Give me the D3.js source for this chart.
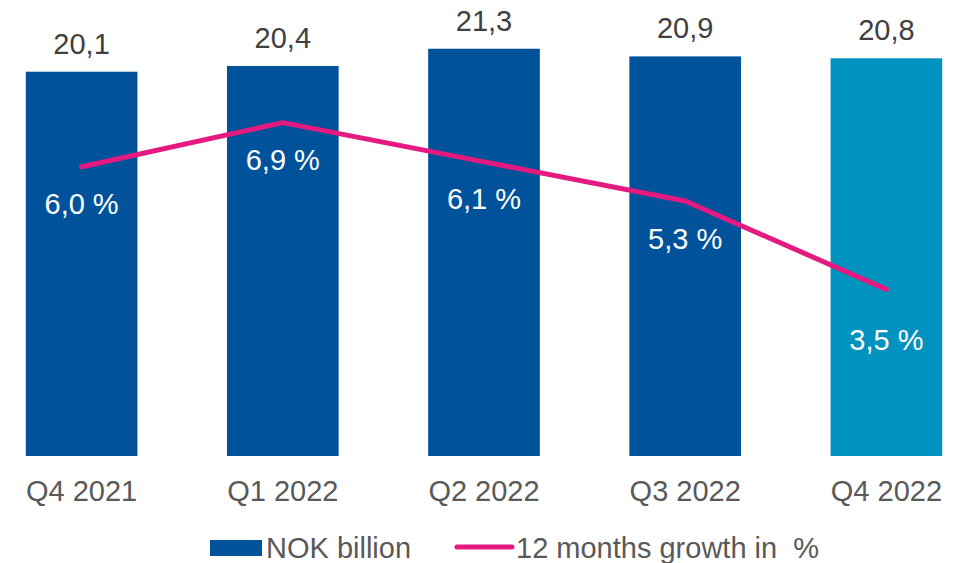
<!DOCTYPE html>
<html>
<head>
<meta charset="utf-8">
<script src="https://cdn.jsdelivr.net/npm/d3@7/dist/d3.min.js"></script>
<style>
  html, body { margin: 0; padding: 0; background: #ffffff; }
  svg { display: block; font-family: "Liberation Sans", Arial, sans-serif; }
</style>
</head>
<body>
<svg id="chart" width="958" height="563"></svg>
<script>
// Quarterly revenue (NOK billion) and 12-month growth (%)
const quarters = ["Q4 2021", "Q1 2022", "Q2 2022", "Q3 2022", "Q4 2022"];
const nokBillion = [20.1, 20.4, 21.3, 20.9, 20.8];
const growthPct = [6.0, 6.9, 6.1, 5.3, 3.5];
const legendLabels = ["NOK billion", "12 months growth in  %"];

const svg = d3.select("#chart");

const colDark = "#00539b";
const colLight = "#0093bf";
const colLine = "#e5197f";
const colText = "#404040";
const colAxis = "#595959";
const fontSize = 29;

const fmt = v => v.toFixed(1).replace(".", ",");

// Plot area extends slightly past the left edge so outer gaps are half the inner gap
const x = d3.scaleBand()
  .domain(quarters)
  .range([-19, 987])
  .paddingInner(0.445)
  .paddingOuter(0.2225);

const y = d3.scaleLinear().domain([0, 23.85]).range([456, 0]);
const y2 = d3.scaleLinear().domain([0, 9.4]).range([461, 0]);

const cx = d => x(d) + x.bandwidth() / 2;

// Bars
svg.append("g").selectAll("rect")
  .data(quarters)
  .join("rect")
  .attr("x", d => x(d))
  .attr("width", x.bandwidth())
  .attr("y", (d, i) => y(nokBillion[i]))
  .attr("height", (d, i) => y(0) - y(nokBillion[i]))
  .attr("fill", (d, i) => i === quarters.length - 1 ? colLight : colDark);

// Bar value labels
svg.append("g").selectAll("text")
  .data(quarters)
  .join("text")
  .attr("x", d => cx(d))
  .attr("y", (d, i) => y(nokBillion[i]) - 18)
  .attr("text-anchor", "middle")
  .attr("font-size", fontSize)
  .attr("fill", colText)
  .text((d, i) => fmt(nokBillion[i]));

// Growth line
const line = d3.line()
  .x((d, i) => cx(quarters[i]))
  .y(d => y2(d));

svg.append("path")
  .datum(growthPct)
  .attr("d", line)
  .attr("fill", "none")
  .attr("stroke", colLine)
  .attr("stroke-width", 5)
  .attr("stroke-linecap", "round")
  .attr("stroke-linejoin", "round");

// Growth labels, white, set below each point
svg.append("g").selectAll("text")
  .data(growthPct)
  .join("text")
  .attr("x", (d, i) => cx(quarters[i]))
  .attr("y", (d, i) => y2(d) + (i === growthPct.length - 1 ? 50 : 37) + 10.5)
  .attr("text-anchor", "middle")
  .attr("font-size", fontSize)
  .attr("fill", "#ffffff")
  .text(d => fmt(d) + " %");

// Category axis labels
const xAxis = d3.axisBottom(x).tickSize(0).tickPadding(0);
const gx = svg.append("g")
  .attr("transform", "translate(0,501)")
  .call(xAxis);
gx.select(".domain").remove();
gx.selectAll("text")
  .attr("y", 0)
  .attr("dy", 0)
  .attr("font-size", fontSize)
  .attr("font-family", "Liberation Sans, Arial, sans-serif")
  .attr("fill", colAxis);

// Legend
const lg = svg.append("g");
lg.append("rect")
  .attr("x", 210).attr("y", 540).attr("width", 52).attr("height", 16)
  .attr("fill", colDark);
lg.append("text")
  .attr("x", 266).attr("y", 558)
  .attr("font-size", fontSize).attr("fill", colAxis)
  .text(legendLabels[0]);
lg.append("line")
  .attr("x1", 457).attr("x2", 512).attr("y1", 547).attr("y2", 547)
  .attr("stroke", colLine).attr("stroke-width", 5).attr("stroke-linecap", "round");
lg.append("text")
  .attr("x", 516).attr("y", 558)
  .attr("font-size", fontSize).attr("fill", colAxis)
  .attr("xml:space", "preserve")
  .style("white-space", "pre")
  .text(legendLabels[1]);
</script>
</body>
</html>
